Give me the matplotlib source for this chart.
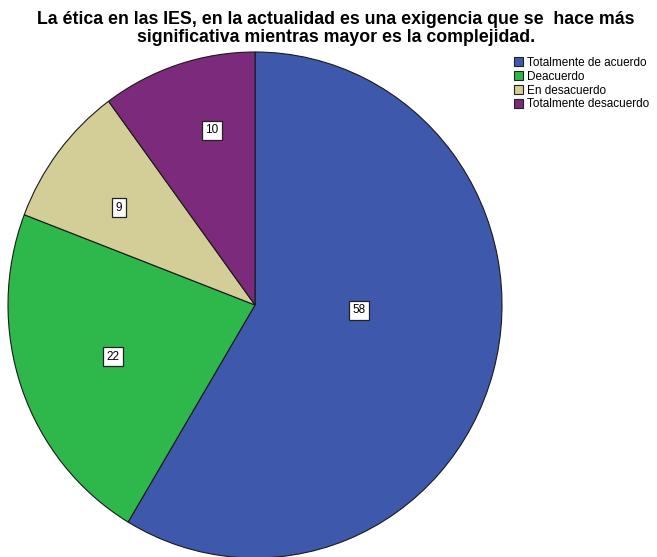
import matplotlib.pyplot as plt
from matplotlib.patches import Patch

plt.rcParams['font.family'] = ['Liberation Sans', 'DejaVu Sans']

categorias = ['Totalmente de acuerdo', 'Deacuerdo', 'En desacuerdo', 'Totalmente desacuerdo']
valores = [58, 22, 9, 10]
colores = ['#3E58AC', '#2EB84B', '#D3CD98', '#7C2A7B']

# posiciones de las etiquetas dentro de cada sector (radio = 1)
pos_etiquetas = [(0.42, -0.02), (-0.575, -0.205), (-0.55, 0.385), (-0.175, 0.69)]

fig = plt.figure(figsize=(6.57, 5.57), dpi=100)
ax = fig.add_axes([8 / 657, -1 / 557, 494 / 657, 506 / 557])

ax.pie(valores, colors=colores, startangle=90, counterclock=False,
       wedgeprops=dict(edgecolor='#1a1a1a', linewidth=0.8))
ax.set_aspect('auto')
ax.set_xlim(-1, 1)
ax.set_ylim(-1, 1)

for v, (x, y) in zip(valores, pos_etiquetas):
    ax.text(x, y, str(v), ha='center', va='center', fontsize=8.5,
            bbox=dict(boxstyle='square,pad=0.3', facecolor='white',
                      edgecolor='#222222', linewidth=0.9))

fig.text(0.511, 1 - 11 / 557,
         'La ética en las IES, en la actualidad es una exigencia que se  hace más\n'
         'significativa mientras mayor es la complejidad.',
         ha='center', va='top', fontsize=12.8, fontweight='bold', linespacing=1.08)

handles = [Patch(facecolor=c, edgecolor='#222222', linewidth=0.8) for c in colores]
fig.legend(handles, categorias, loc='upper left', bbox_to_anchor=(514 / 657, 1 - 57 / 557),
           frameon=False, fontsize=8.5, handlelength=0.8, handleheight=0.8,
           handletextpad=0.3, labelspacing=0.15, borderpad=0, borderaxespad=0)

fig.savefig('out.png', dpi=100)
